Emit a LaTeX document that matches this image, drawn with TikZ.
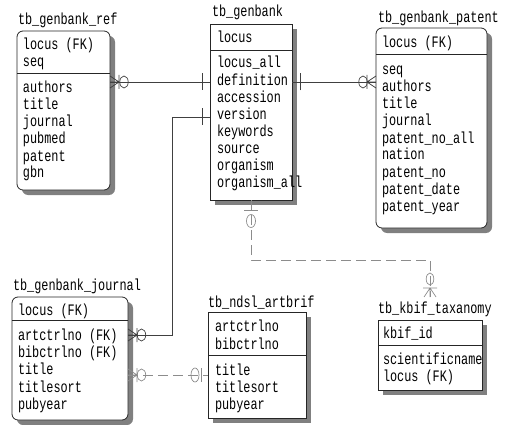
\documentclass[tikz,border=0pt]{standalone}
\usepackage{fontspec}
\newfontfamily\erfont[FakeStretch=0.74]{Liberation Mono}
\usetikzlibrary{fit,shadows}

% one text line per field, baselines spaced by a fixed pitch
\newcommand\fieldrows[5]{%
  \foreach \txt [count=\i, evaluate=\i as \yy using #3+(\i-1)*#4] in {#5}
    {\node[field] (#1\i) at (#2,\yy) {\txt};}}

% relationship ends: crow's foot with bar and circle (zero, one or many)
\newcommand\zmany[6][relmark]{%
  \begin{scope}[shift={(#2)}, rotate=#3]
    \draw[#1] (0,6) -- (9,0) -- (0,-6) (0,0) -- (9,0) (9,7) -- (9,-7);
    \draw[#1] (#4,0) ellipse [x radius=#5, y radius=#6];
  \end{scope}}
% bar and circle (zero or one)
\newcommand\zone[7][relmark]{%
  \begin{scope}[shift={(#2)}, rotate=#3]
    \draw[#1] (#4,7) -- (#4,-7);
    \draw[#1] (#5,0) ellipse [x radius=#6, y radius=#7];
  \end{scope}}
% single bar (exactly one)
\newcommand\onebar[3][relmark]{%
  \begin{scope}[shift={(#2)}, rotate=#3]
    \draw[#1] (8,8.5) -- (8,-8.5);
  \end{scope}}

\begin{document}
\begin{tikzpicture}[x=1pt, y=-1pt,
  every node/.style={font=\erfont\fontsize{16pt}{17pt}\selectfont, inner sep=0pt, outer sep=0pt},
  erbox/.style={draw=black!85, line width=0.8pt, fill=white,
    drop shadow={shadow xshift=5pt, shadow yshift=-5pt, fill=black!50, opacity=1}},
  softbox/.style={erbox, rounded corners=6pt},
  divider/.style={draw=black!85, line width=0.8pt},
  tabtitle/.style={anchor=base west},
  field/.style={anchor=base west},
  rel/.style={draw=black!75, line width=0.7pt},
  optrel/.style={draw=black!45, line width=0.7pt, dash pattern=on 10pt off 5pt},
  relmark/.style={draw=black!75, line width=0.7pt},
  optmark/.style={draw=black!45, line width=0.7pt, solid}]
\useasboundingbox (0,0) rectangle (506,425);

% ---- tb_genbank_ref
\node[tabtitle] (ref-t) at (18,25) {tb\_genbank\_ref};
\node[softbox, fit={(17,31) (110,190)}] (ref) {};
\draw[divider] (ref.west |- 0,73) -- (ref.east |- 0,73);
\fieldrows{ref-k}{23}{50}{17}{locus (FK), seq}
\fieldrows{ref-a}{23}{93}{17}{authors, title, journal, pubmed, patent, gbn}

% ---- tb_genbank
\node[tabtitle] (gb-t) at (212,17) {tb\_genbank};
\node[erbox, fit={(210,24) (292,200)}] (gb) {};
\draw[divider] (gb.west |- 0,50) -- (gb.east |- 0,50);
\fieldrows{gb-k}{217}{43}{17}{locus}
\fieldrows{gb-a}{217}{68}{17.1}{locus\_all, definition, accession, version, keywords, source, organism, organism\_all}

% ---- tb_genbank_patent
\node[tabtitle] (pat-t) at (378,23) {tb\_genbank\_patent};
\node[softbox, fit={(376,28) (487,228)}] (pat) {};
\draw[divider] (pat.west |- 0,54) -- (pat.east |- 0,54);
\fieldrows{pat-k}{382}{48}{17}{locus (FK)}
\fieldrows{pat-a}{382}{75}{17}{seq, authors, title, journal, patent\_no\_all, nation, patent\_no, patent\_date, patent\_year}

% ---- tb_genbank_journal
\node[tabtitle] (jr-t) at (13,290) {tb\_genbank\_journal};
\node[softbox, fit={(12,297) (128,420)}] (jr) {};
\draw[divider] (jr.west |- 0,320) -- (jr.east |- 0,320);
\fieldrows{jr-k}{18}{315}{17}{locus (FK)}
\fieldrows{jr-a}{18}{340}{17.4}{artctrlno (FK), bibctrlno (FK), title, titlesort, pubyear}

% ---- tb_ndsl_artbrif
\node[tabtitle] (art-t) at (208,307) {tb\_ndsl\_artbrif};
\node[erbox, fit={(208,312) (306,418)}] (art) {};
\draw[divider] (art.west |- 0,355) -- (art.east |- 0,355);
\fieldrows{art-k}{215}{331}{18}{artctrlno, bibctrlno}
\fieldrows{art-a}{215}{375}{17}{title, titlesort, pubyear}

% ---- tb_kbif_taxanomy
\node[tabtitle] (tax-t) at (378,313) {tb\_kbif\_taxanomy};
\node[erbox, fit={(378,320) (482,390)}] (tax) {};
\draw[divider] (tax.west |- 0,345) -- (tax.east |- 0,345);
\fieldrows{tax-k}{383}{338}{17}{kbif\_id}
\fieldrows{tax-a}{383}{364}{17}{scientificname, locus (FK)}

% ---- relationship lanes
\coordinate (l1) at (0,82);
\coordinate (c2a) at (172,117);
\coordinate (c2b) at (172,335);
\coordinate (l5) at (0,375);
\coordinate (c4) at (430,260);
\coordinate (taxin) at (430,297);

% ---- relationships
\draw[rel] (ref.east |- l1) -- (gb.west |- l1);
\draw[rel] (gb.east |- l1) -- (pat.west |- l1);
\draw[rel] (gb.west |- c2a) -- (c2a) -- (c2b) -- (jr.east |- c2b);
\draw[optrel] (jr.east |- l5) -- (art.west |- l5);
\draw[optrel] (gb.south) |- (c4) -- (taxin);

% ---- relationship ends
\zmany{ref.east |- l1}{0}{14}{4.2}{6}
\onebar{gb.west |- l1}{180}
\onebar{gb.east |- l1}{0}
\zmany{pat.west |- l1}{180}{13}{4.2}{6}
\onebar{gb.west |- c2a}{180}
\zmany{jr.east |- c2b}{0}{13.5}{4.2}{6}
\zmany[optmark]{jr.east |- l5}{0}{13.5}{4.2}{6}
\zone[optmark]{art.west |- l5}{180}{7}{13}{4}{7}
\zone[optmark]{gb.south}{-90}{10}{21}{6.5}{4.5}
\zmany[optmark]{taxin}{90}{18}{6}{3.8}
\end{tikzpicture}
\end{document}
